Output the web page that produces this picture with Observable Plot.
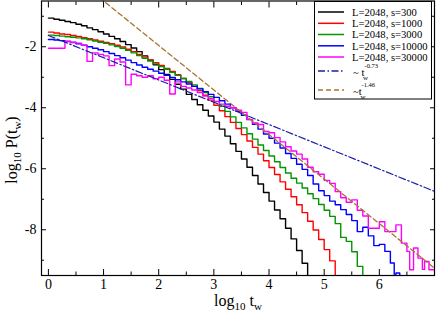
<!DOCTYPE html>
<html><head><meta charset="utf-8">
<script src="https://cdn.jsdelivr.net/npm/d3@7"></script>
<script src="https://cdn.jsdelivr.net/npm/@observablehq/plot@0.6"></script>
<style>html,body{margin:0;padding:0;background:#fff}svg{display:block}</style>
</head><body><div id="chart"></div>
<script>
const names = ["L=2048, s=300","L=2048, s=1000","L=2048, s=3000","L=2048, s=10000","L=2048, s=30000"];
const colors = ["#000000","#ff0000","#009600","#0000ff","#ff00ff"];
const xMajor = [0,1,2,3,4,5,6];
const xMinor = [0.5,1.5,2.5,3.5,4.5,5.5,6.5];
const yMajor = [-2,-4,-6,-8];
const yMinor = [-1,-3,-5,-7,-9];

const bins = [0,0.1,0.2,0.3,0.4,0.5,0.6,0.7,0.8,0.9,1,1.1,1.2,1.3,1.4,1.5,1.6,1.7,1.8,1.9,2,2.1,2.2,2.3,2.4,2.5,2.6,2.7,2.8,2.9,3,3.1,3.2,3.3,3.4,3.5,3.6,3.7,3.8,3.9,4,4.1,4.2,4.3,4.4,4.5,4.6,4.7,4.8,4.9,5,5.1,5.2,5.3,5.4,5.5,5.6,5.7,5.8,5.9,6,6.1,6.2];

const p300 = [-1.06,-1.10,-1.13,-1.17,-1.21,-1.26,-1.31,-1.38,-1.44,-1.51,
  -1.58,-1.66,-1.74,-1.83,-1.93,-2.04,-2.16,-2.30,-2.44,-2.59,
  -2.75,-2.91,-3.07,-3.23,-3.39,-3.56,-3.73,-3.90,-4.08,-4.27,
  -4.47,-4.70,-4.93,-5.18,-5.43,-5.68,-5.95,-6.22,-6.50,-6.78,
  -7.06,-7.35,-7.64,-7.95,-8.30,-8.68,-9.10,-9.60];
const p1000 = [-1.52,-1.55,-1.58,-1.60,-1.63,-1.66,-1.70,-1.74,-1.78,-1.82,
  -1.86,-1.90,-1.95,-2.01,-2.08,-2.16,-2.25,-2.34,-2.43,-2.52,
  -2.61,-2.71,-2.81,-2.92,-3.04,-3.17,-3.30,-3.44,-3.59,-3.75,
  -3.92,-4.10,-4.29,-4.48,-4.68,-4.88,-5.09,-5.30,-5.52,-5.74,
  -5.96,-6.19,-6.43,-6.67,-6.92,-7.18,-7.44,-7.72,-8.01,-8.32,
  -8.65,-9.02,-9.55];
const p3000 = [-1.62,-1.63,-1.65,-1.67,-1.69,-1.71,-1.74,-1.77,-1.81,-1.85,
  -1.89,-1.94,-1.99,-2.05,-2.12,-2.20,-2.29,-2.38,-2.47,-2.56,
  -2.65,-2.74,-2.84,-2.94,-3.04,-3.14,-3.25,-3.37,-3.50,-3.64,
  -3.79,-3.95,-4.12,-4.30,-4.48,-4.66,-4.85,-5.03,-5.22,-5.40,
  -5.58,-5.77,-5.96,-6.14,-6.31,-6.47,-6.63,-6.82,-6.98,-7.17,
  -7.36,-7.56,-7.80,-8.25,-8.38,-8.72,-9.20,-9.60];
const p10000 = [-1.76,-1.78,-1.80,-1.83,-1.86,-1.90,-1.95,-2.00,-2.05,-2.10,
  -2.16,-2.22,-2.29,-2.36,-2.44,-2.52,-2.60,-2.67,-2.74,-2.80,
  -2.87,-2.94,-3.01,-3.08,-3.15,-3.22,-3.30,-3.38,-3.47,-3.56,
  -3.66,-3.77,-3.88,-4.00,-4.12,-4.25,-4.39,-4.54,-4.70,-4.86,
  -5.00,-5.16,-5.32,-5.50,-5.66,-5.85,-6.02,-6.22,-6.50,-6.72,
  -6.88,-7.06,-7.18,-7.34,-7.50,-7.70,-8.06,-7.92,-8.20,-8.52,
  -8.48,-8.71,-9.09];
const tail10000X = [6.27,6.3,6.37];
const tail10000Y = [-9.65,-9.42,-9.8];

const x30000 = [0,0.3,0.4,0.5,0.6,0.7,0.8,0.9,1,1.1,1.2,1.3,1.4,1.5,1.6,1.7,1.8,1.9,
  2,2.1,2.2,2.3,2.4,2.5,2.6,2.7,2.8,2.9,3,3.1,3.2,3.3,3.4,3.5,3.6,3.7,3.8,3.9,
  4,4.1,4.2,4.3,4.4,4.5,4.6,4.7,4.8,4.9,5,5.1,5.2,5.3,5.4,5.5,5.6,5.7,5.8,5.9,
  6,6.1,6.2,6.3,6.4,6.5,6.55,6.62,6.7,6.78,6.82,6.9,7];
const p30000 = [-2.05,-1.82,-1.85,-1.88,-1.95,-2.48,-2.20,-2.25,-2.30,-2.62,-2.40,-2.50,-3.25,-2.90,-2.95,-3.00,-2.95,-3.05,
  -3.00,-3.10,-3.55,-3.15,-3.30,-3.35,-3.42,-3.50,-3.62,-3.70,-3.80,-3.88,-3.95,-4.00,-4.08,-4.15,-4.38,-4.50,-4.55,-4.78,
  -4.82,-4.98,-5.12,-5.28,-5.42,-5.52,-5.68,-5.95,-6.10,-6.18,-6.38,-6.48,-6.75,-6.95,-7.10,-7.02,-7.36,-7.55,-7.95,-7.95,
  -7.74,-8.06,-8.06,-7.84,-8.44,-8.71,-9.31,-8.60,-8.93,-9.30,-9.04,-9.31,-9.31];

// fitted power laws (endpoints)
const fit073X = [0, 7];
const fit073Y = [-1.63, -6.74];
const fit146X = [0.7, 7];
const fit146Y = [-0.06, -9.26];

const table = [];
function add(name, xs, ys) { ys.forEach((y, i) => table.push({x: xs[i], y, s: name})); }
add(names[0], bins, p300);
add(names[1], bins, p1000);
add(names[2], bins, p3000);
add(names[3], bins.slice(0, p10000.length).concat(tail10000X), p10000.concat(tail10000Y));
add(names[4], x30000, p30000);
const fitA = fit073X.map((x, i) => ({x, y: fit073Y[i]}));
const fitB = fit146X.map((x, i) => ({x, y: fit146Y[i]}));

const dashDot = "7,2.5,1.5,2.5";
const dashed = "5,3";
const navy = "#1c1ca8";
const brown = "#a8742e";

const tickOpts = {tickFormat: () => "", label: null};
const svg = Plot.plot({
  width: 436, height: 314,
  marginTop: 0.5, marginRight: 2, marginBottom: 39, marginLeft: 41,
  x: {domain: [-0.125, 7]},
  y: {domain: [-9.5, -0.5]},
  color: {domain: names, range: colors},
  style: {fontFamily: "'Liberation Serif','Times New Roman',serif", fontSize: "14px", background: "white", color: "black"},
  marks: [
    Plot.line(table, {x: "x", y: "y", z: "s", stroke: "s", curve: "step-after", strokeWidth: 1.4, clip: true}),
    Plot.line(fitA, {x: "x", y: "y", stroke: navy, strokeWidth: 1.2, strokeDasharray: dashDot, clip: true}),
    Plot.line(fitB, {x: "x", y: "y", stroke: brown, strokeWidth: 1.3, strokeDasharray: dashed, clip: true}),
    Plot.frame({stroke: "black", strokeWidth: 1.2}),
    Plot.axisX({anchor: "bottom", ticks: xMajor, tickSize: 6, dy: -6, ...tickOpts}),
    Plot.axisX({anchor: "bottom", ticks: xMinor, tickSize: 3.5, dy: -3.5, ...tickOpts}),
    Plot.axisX({anchor: "top", ticks: xMajor, tickSize: 6, dy: 6, ...tickOpts}),
    Plot.axisX({anchor: "top", ticks: xMinor, tickSize: 3.5, dy: 3.5, ...tickOpts}),
    Plot.axisY({anchor: "left", ticks: yMajor, tickSize: 5, dx: 5, ...tickOpts}),
    Plot.axisY({anchor: "left", ticks: yMinor, tickSize: 3, dx: 3, ...tickOpts}),
    Plot.axisY({anchor: "right", ticks: yMajor, tickSize: 5, dx: -5, ...tickOpts}),
    Plot.axisY({anchor: "right", ticks: yMinor, tickSize: 3, dx: -3, ...tickOpts}),
    Plot.axisX({anchor: "bottom", ticks: xMajor, tickSize: 0, tickPadding: 4, tickFormat: d => String(d), label: null}),
    Plot.axisY({anchor: "left", ticks: yMajor, tickSize: 0, tickPadding: 5, tickFormat: d => String(d), label: null})
  ]
});
document.getElementById("chart").appendChild(svg);

const s = d3.select(svg);
const serif = "'Liberation Serif','Times New Roman',serif";
// axis titles
const xt = s.append("text").attr("x", 238).attr("y", 305.5).attr("text-anchor", "middle")
  .attr("font-family", serif).attr("font-size", 16).attr("fill", "black");
xt.append("tspan").text("log");
xt.append("tspan").attr("dy", 4).attr("font-size", 11).text("10");
xt.append("tspan").attr("dy", -4).text(" t");
xt.append("tspan").attr("dy", 4).attr("font-size", 11).text("w");

const yt = s.append("text").attr("transform", "translate(17,150) rotate(-90)").attr("text-anchor", "middle")
  .attr("font-family", serif).attr("font-size", 16).attr("fill", "black");
yt.append("tspan").text("log");
yt.append("tspan").attr("dy", 4).attr("font-size", 11).text("10");
yt.append("tspan").attr("dy", -4).text(" P(t");
yt.append("tspan").attr("dy", 4).attr("font-size", 11).text("w");
yt.append("tspan").attr("dy", -4).text(")");

// legend
const lg = s.append("g").attr("font-family", serif).attr("fill", "black").attr("text-anchor", "start");
lg.append("rect").attr("x", 314.5).attr("y", 1.5).attr("width", 117).attr("height", 97.5)
  .attr("fill", "white").attr("stroke", "black").attr("stroke-width", 1);
const rowY = [12, 23.3, 34.5, 45.8, 57];
names.forEach((n, i) => {
  lg.append("line").attr("x1", 318).attr("x2", 344).attr("y1", rowY[i]).attr("y2", rowY[i])
    .attr("stroke", colors[i]).attr("stroke-width", 1.5);
  lg.append("text").attr("x", 352).attr("y", rowY[i] + 3.7).attr("font-size", 10.6).text(n);
});
lg.append("line").attr("x1", 318).attr("x2", 344).attr("y1", 71).attr("y2", 71)
  .attr("stroke", navy).attr("stroke-width", 1.3).attr("stroke-dasharray", dashDot);
lg.append("text").attr("x", 353).attr("y", 76).attr("font-size", 10.6).text("~ t");
lg.append("text").attr("x", 363).attr("y", 80).attr("font-size", 7).text("w");
lg.append("text").attr("x", 364.5).attr("y", 68).attr("font-size", 6.5).text("-0.73");
lg.append("line").attr("x1", 318).attr("x2", 344).attr("y1", 90).attr("y2", 90)
  .attr("stroke", brown).attr("stroke-width", 1.3).attr("stroke-dasharray", dashed);
lg.append("text").attr("x", 353).attr("y", 95).attr("font-size", 10.6).text("~t");
lg.append("text").attr("x", 360.5).attr("y", 99).attr("font-size", 7).text("w");
lg.append("text").attr("x", 361.5).attr("y", 87).attr("font-size", 6.5).text("-1.46");
</script>
</body></html>
